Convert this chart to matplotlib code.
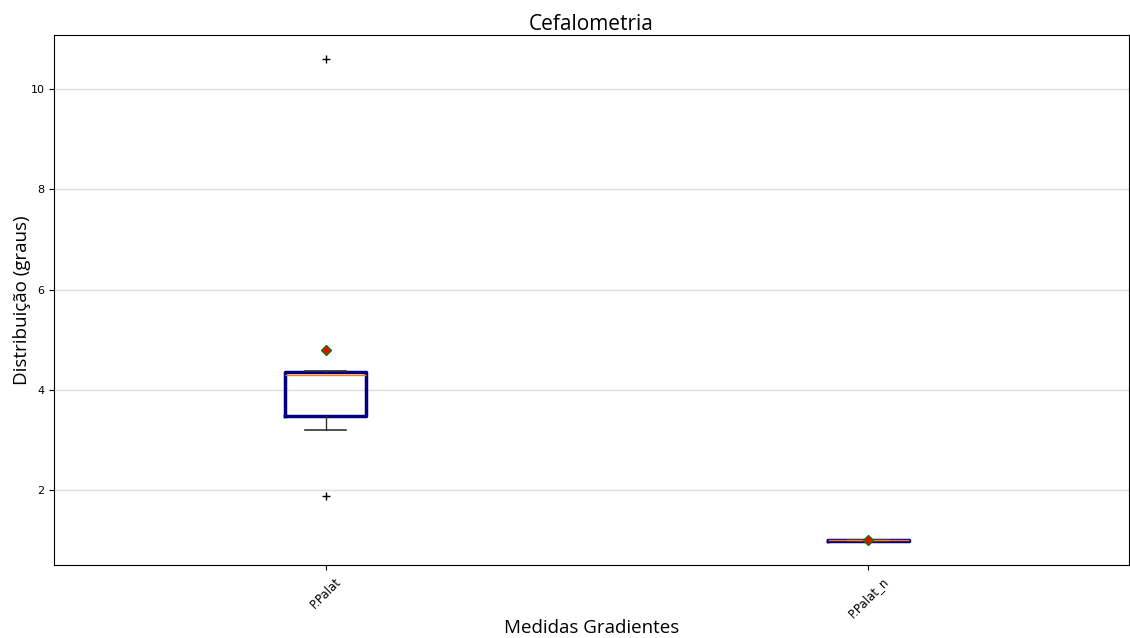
import matplotlib
matplotlib.use("Agg")
import matplotlib.pyplot as plt

# box statistics
labels = ["P.Palat", "P.Palat_n"]
medians = [4.29, 1.0]
q1 = [3.48, 0.98]
q3 = [4.36, 1.01]
whislo = [3.19, 0.98]
whishi = [4.37, 1.01]
means = [4.79, 1.0]
fliers = [[10.6, 1.88], []]

stats = []
for i in range(len(labels)):
    stats.append({"label": labels[i], "med": medians[i], "q1": q1[i], "q3": q3[i],
                  "whislo": whislo[i], "whishi": whishi[i], "mean": means[i],
                  "fliers": fliers[i]})

fig = plt.figure(figsize=(11.3, 6.38), dpi=100)
ax = fig.add_axes([0.048, 0.114, 0.951, 0.831])

ax.bxp(stats, widths=0.15, showmeans=True,
       boxprops=dict(color="navy", linewidth=2.5),
       medianprops=dict(color="#ff7f0e", linewidth=1),
       whiskerprops=dict(color="#333333", linewidth=1),
       capprops=dict(color="#333333", linewidth=1.2),
       meanprops=dict(marker="D", markerfacecolor="red", markeredgecolor="green", markersize=5),
       flierprops=dict(marker="+", markeredgecolor="black", markersize=6))

ax.set_xlim(0.5, 2.48)
ax.set_ylim(0.5, 11.08)
ax.set_yticks([2, 4, 6, 8, 10])
ax.yaxis.grid(True, color="#dddddd", linewidth=1)
ax.set_axisbelow(True)
ax.tick_params(axis="y", labelsize=8)
ax.tick_params(axis="x", labelsize=8.5)
plt.setp(ax.get_xticklabels(), rotation=45)

ax.set_title("Cefalometria", fontsize=15, family="Open Sans", pad=4)
ax.set_xlabel("Medidas Gradientes", fontsize=13.5, family="Open Sans", labelpad=-1)
ax.set_ylabel("Distribuição (graus)", fontsize=13.5, family="Open Sans", labelpad=0)

fig.savefig("out.png", dpi=100)
